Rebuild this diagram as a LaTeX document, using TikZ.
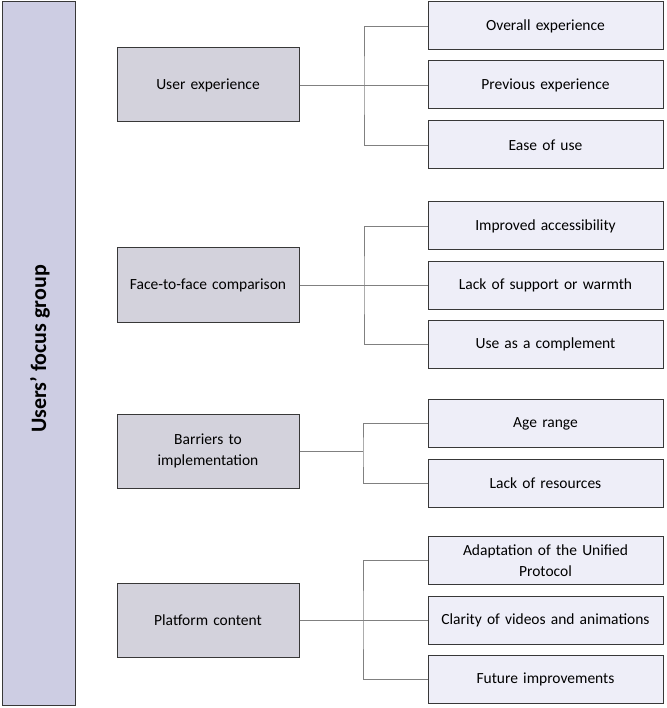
\documentclass[tikz,border=0pt]{standalone}
\usepackage{fontspec}
\setmainfont{Carlito}
\begin{document}
\begin{tikzpicture}[x=1pt,y=-1pt,
  base/.style={draw=black!78,line width=1pt,align=center,inner sep=2pt,font=\fontsize{15.5}{20.5}\selectfont},
  mainbox/.style={base,fill=mainfill,minimum width=73pt,minimum height=703pt},
  midbox/.style={base,fill=midfill,minimum width=182pt,minimum height=74pt,text width=170pt},
  leafbox/.style={base,fill=leaffill,minimum width=235pt,minimum height=48pt,text width=228pt},
  link/.style={draw=linegrey,line width=0.8pt}]
\definecolor{mainfill}{HTML}{CDCDE3}
\definecolor{midfill}{HTML}{D3D2DC}
\definecolor{leaffill}{HTML}{EEEEF8}
\definecolor{linegrey}{HTML}{808080}
\useasboundingbox (0,0) rectangle (666,708);

\node[mainbox] (root) at (38.5,353.5) {};
\node[rotate=90,font=\fontsize{22}{26}\selectfont\bfseries] (roottext) at (40,349) {Users' focus group};

\node[midbox] (m1) at (208,85) {User experience};
\node[midbox] (m2) at (208,285) {Face-to-face comparison};
\node[midbox] (m3) at (208,451) {Barriers to\\implementation};
\node[midbox] (m4) at (208,620) {Platform content};

\node[leafbox] (c11) at (545.5,26) {Overall experience};
\node[leafbox] (c12) at (545.5,85) {Previous experience};
\node[leafbox] (c13) at (545.5,145) {Ease of use};
\node[leafbox] (c21) at (545.5,226) {Improved accessibility};
\node[leafbox] (c22) at (545.5,285) {Lack of support or warmth};
\node[leafbox] (c23) at (545.5,344.5) {Use as a complement};
\node[leafbox] (c31) at (545.5,423.5) {Age range};
\node[leafbox] (c32) at (545.5,483.5) {Lack of resources};
\node[leafbox] (c41) at (545.5,560.5) {Adaptation of the Unified\\Protocol};
\node[leafbox] (c42) at (545.5,620) {Clarity of videos and animations};
\node[leafbox] (c43) at (545.5,679.5) {Future improvements};

\coordinate (j1) at (364,85);
\coordinate (j2) at (364,285);
\coordinate (j3) at (363,451);
\coordinate (j4) at (363,620);

\draw[link] (m1.east) -- (c12.west);
\draw[link] (c11.west) -| (j1) |- (c13.west);
\draw[link] (m2.east) -- (c22.west);
\draw[link] (c21.west) -| (j2) |- (c23.west);
\draw[link] (m3.east) -- (j3);
\draw[link] (c31.west) -| (j3) |- (c32.west);
\draw[link] (m4.east) -- (c42.west);
\draw[link] (c41.west) -| (j4) |- (c43.west);
\end{tikzpicture}
\end{document}
